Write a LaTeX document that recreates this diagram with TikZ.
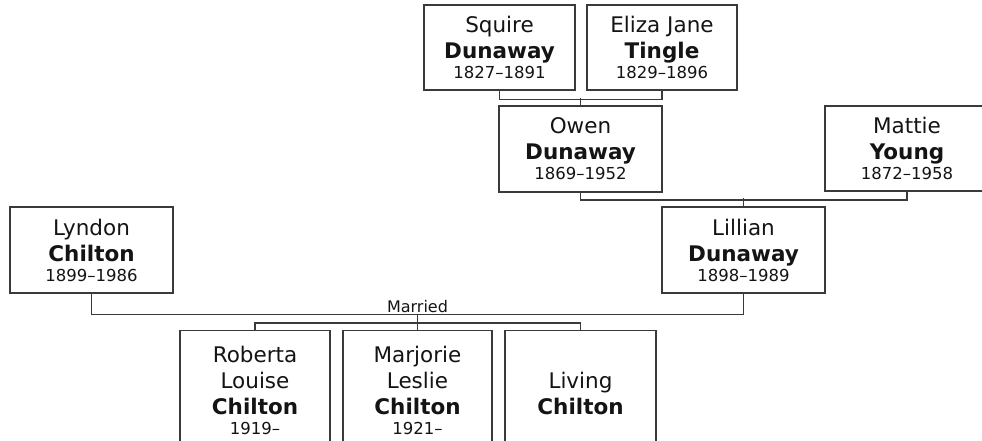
\documentclass[tikz,border=0pt]{standalone}
\usepackage{fontspec}
\setmainfont{DejaVu Sans}
\usepackage{xcolor}
\usepackage{tikz}
\definecolor{ink}{HTML}{141414}
\definecolor{rule}{HTML}{3A3A3A}
\newcommand{\yrs}{\fontsize{16.5}{20}\selectfont}

\begin{document}
\begin{tikzpicture}[x=1pt,y=-1pt,
  person/.style={draw=rule,line width=1.5pt,fill=white,text=ink,align=center,
    inner sep=0pt,font=\fontsize{21.5}{26}\selectfont},
  kid/.style={person,minimum height=119pt},
  link/.style={draw=rule,line width=1.5pt}]
  \useasboundingbox (0,0) rectangle (982,440);
  \clip (0,0) rectangle (982,440);
  % grandparents
  \node[person,minimum width=151pt,minimum height=85pt] (sq) at (499.5,47.5) {Squire\\\textbf{Dunaway}\\[-6pt]\yrs 1827--1891};
  \node[person,minimum width=150pt,minimum height=85pt] (el) at (662,47.5) {Eliza Jane\\\textbf{Tingle}\\[-6pt]\yrs 1829--1896};
  % parents
  \node[person,minimum width=163pt,minimum height=86pt] (ow) at (580.5,149) {Owen\\\textbf{Dunaway}\\[-6pt]\yrs 1869--1952};
  \node[person,minimum width=164pt,minimum height=85pt] (ma) at (907,148.5) {Mattie\\\textbf{Young}\\[-6pt]\yrs 1872--1958};
  % couple
  \node[person,minimum width=163pt,minimum height=86pt] (ly) at (91.5,250) {Lyndon\\\textbf{Chilton}\\[-6pt]\yrs 1899--1986};
  \node[person,minimum width=163pt,minimum height=86pt] (li) at (743.5,250) {Lillian\\\textbf{Dunaway}\\[-6pt]\yrs 1898--1989};
  % children
  \node[kid,minimum width=150pt] (ro) at (255,390) {Roberta\\Louise\\\textbf{Chilton}\\[-6pt]\yrs 1919--};
  \node[kid,minimum width=149pt] (mj) at (417.5,390) {Marjorie\\Leslie\\\textbf{Chilton}\\[-6pt]\yrs 1921--};
  \node[kid,minimum width=151pt] (lv) at (580.5,390) {\vphantom{Rb}\\Living\\\textbf{Chilton}\\[-6pt]\yrs\vphantom{1}};

  \draw[link] (sq.south) -- ++(0,8.5) -| (el.south);
  \draw[link] (ow.north) -- ++(0,-7.5);
  \draw[link] (ow.south) -- ++(0,7) -| (ma.south);
  \draw[link] (li.north) -- ++(0,-8);
  \draw[link] (ly.south) -- ++(0,20.5) coordinate (wl) -| (li.south);
  \coordinate (wed) at (wl -| mj.north);
  \node[above=1.5pt,text=ink,inner sep=0pt,font=\fontsize{16}{18}\selectfont] (mar) at (wed) {Married};
  \draw[link] (wed) -- (mj.north);
  \draw[link] (ro.north) -- ++(0,-7) -| (lv.north);
\end{tikzpicture}
\end{document}
